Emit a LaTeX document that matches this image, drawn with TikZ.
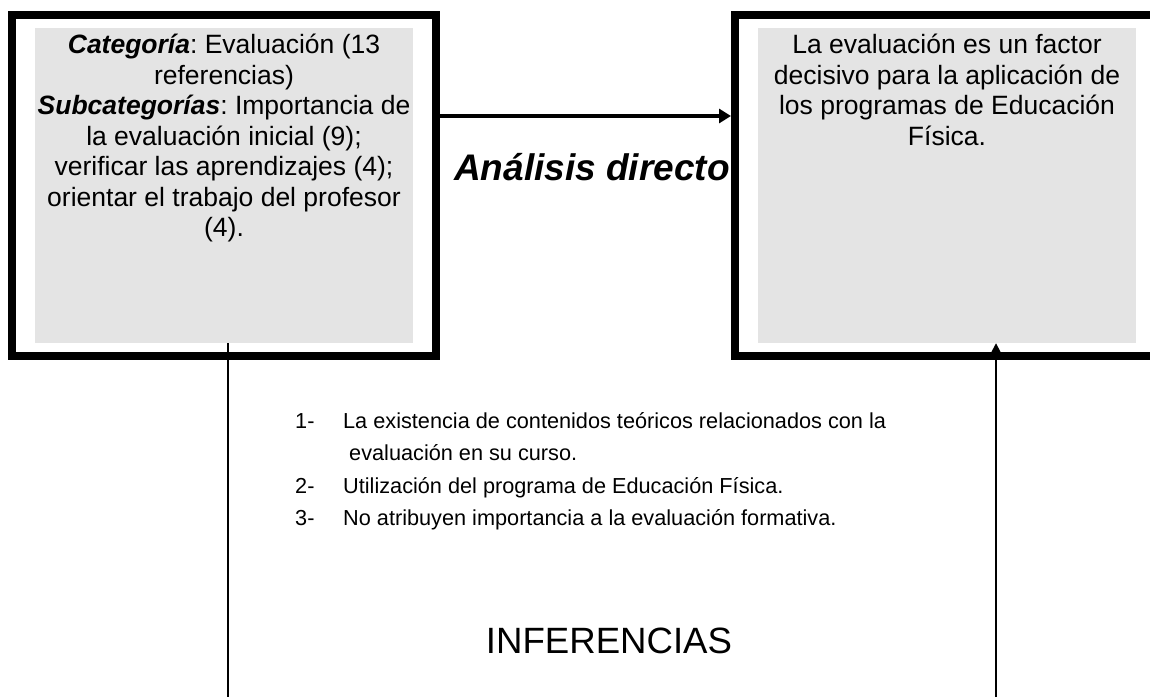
\documentclass[tikz,border=0pt]{standalone}
\usepackage{fontspec}
\setmainfont{Liberation Sans}
\usetikzlibrary{arrows.meta,positioning}
\definecolor{panelgray}{RGB}{228,228,228}
\frenchspacing

\begin{document}
\begin{tikzpicture}[x=1pt,y=-1pt,
    outerbox/.style={draw,line width=8pt,inner sep=0pt,minimum width=424pt,minimum height=341.5pt},
    panel/.style={fill=panelgray,inner sep=0pt,minimum width=378pt,minimum height=315pt},
    boxtext/.style={inner sep=0pt,align=center,font=\fontsize{26.5}{30.5}\selectfont},
    stem/.style={line width=1.8pt}]
      \useasboundingbox (0,0) rectangle (1150,697);
      \clip (0,0) rectangle (1150,697);
      % the two framed boxes
      \node[outerbox] (lframe) at (224,185.25) {};
      \node[panel] (lpanel) at (224,185.5) {};
      \node[outerbox] (rframe) at (947,185.25) {};
      \node[panel] (rpanel) at (947,185.5) {};
      \node[boxtext,below=6pt of lpanel.north] (ltext) {\textbf{\textit{Categoría}}: Evaluación (13\\referencias)\\\textbf{\textit{Subcategorías}}: Importancia de\\la evaluación inicial (9);\\verificar las aprendizajes (4);\\orientar el trabajo del profesor\\(4).};
      \node[boxtext,below=6pt of rpanel.north] (rtext) {La evaluación es un factor\\decisivo para la aplicación de\\los programas de Educación\\Física.};
      \draw[-{Triangle[length=12pt,width=14pt]},line width=4pt] ([yshift=69.25pt]lframe.east)--([yshift=69.25pt]rframe.west);
      \node[inner sep=0pt,anchor=base,font=\fontsize{37}{44}\selectfont\bfseries\itshape] (analisis) at (592,180) {Análisis directo};
      % inferences
      \node[inner sep=0pt,anchor=base west,font=\fontsize{21.7}{32.5}\selectfont] (items) at (295,428) {%
        \begin{tabular}[t]{@{}p{48pt}@{}l@{}}
          1- & La existencia de contenidos teóricos relacionados con la\\
             & \ evaluación en su curso.\\
          2- & Utilización del programa de Educación Física.\\
          3- & No atribuyen importancia a la evaluación formativa.
        \end{tabular}};
      \node[inner sep=0pt,anchor=base,font=\fontsize{36.6}{44}\selectfont] (inferencias) at (609,653) {INFERENCIAS};
      \coordinate (lfoot) at (228,697);
      \coordinate (rfoot) at (996,697);
      \draw[stem] (lpanel.south -| lfoot)--(lfoot);
      \draw[stem,-{Triangle[length=10pt,width=10pt]}] (rfoot)--(rfoot |- rpanel.south);
    \end{tikzpicture}
\end{document}
